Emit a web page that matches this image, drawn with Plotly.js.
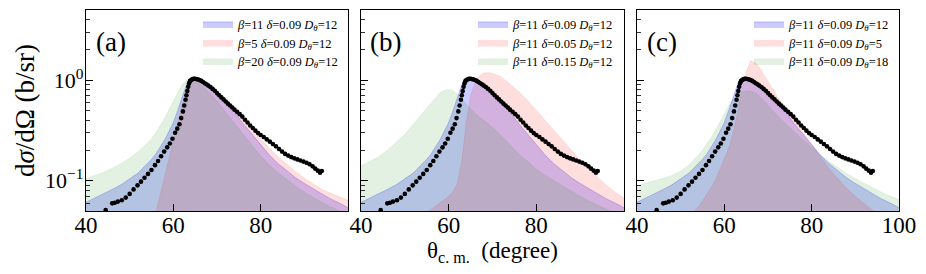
<!DOCTYPE html>
<html><head><meta charset="utf-8">
<script src="https://cdn.plot.ly/plotly-3.0.1.min.js"></script>
<style>html,body{margin:0;padding:0;background:#fff}#chart{width:926px;height:274px}</style>
</head><body><div id="chart"></div>
<script>
// ---- data ----
const thetaModel = [40,42,44,46,48,50,52,54,55,56,57,58,59,60,61,62,63,64,65,66,67,68,69,70,72,74,76,78,80,82,84,86,88,90,92,94,96,98,100];
const thetaRed = [52,53,54,55,56,57,58,59,60,61,62,63,64,65,66,67,68,69,70,72,74,76,78,80,82,84,86,88,90,92,94,96,98,100];

// beta=11 delta=0.09 Dtheta=12 (common in all panels)
const sigBase = [0.061,0.067,0.074,0.082,0.091,0.104,0.12,0.148,0.163,0.185,0.215,0.255,0.31,0.38,0.5,0.68,0.9,1.05,1.08,1.03,0.96,0.89,0.82,0.75,0.6,0.48,0.37,0.29,0.225,0.18,0.148,0.125,0.107,0.094,0.083,0.074,0.066,0.06,0.054];
// panel (a)
const sigBeta5  = [0.012,0.016,0.022,0.032,0.047,0.073,0.11,0.17,0.26,0.38,0.57,0.78,0.94,1.02,1.0,0.95,0.89,0.82,0.75,0.62,0.5,0.4,0.32,0.26,0.21,0.172,0.145,0.123,0.106,0.093,0.082,0.075,0.069,0.064];
const sigBeta20 = [0.105,0.112,0.121,0.133,0.148,0.168,0.195,0.235,0.262,0.3,0.35,0.42,0.51,0.62,0.76,0.9,1.0,1.04,1.0,0.93,0.85,0.77,0.69,0.62,0.48,0.37,0.29,0.225,0.177,0.143,0.12,0.102,0.088,0.077,0.068,0.061,0.055,0.05,0.046];
// panel (b)
const sigDelta005 = [0.03,0.038,0.043,0.048,0.052,0.056,0.06,0.064,0.07,0.078,0.095,0.16,0.38,0.7,0.95,1.1,1.18,1.19,1.17,1.08,0.92,0.77,0.63,0.5,0.4,0.315,0.25,0.197,0.16,0.13,0.108,0.09,0.077,0.067];
const sigDelta015 = [0.141,0.155,0.172,0.2,0.24,0.29,0.37,0.47,0.53,0.6,0.68,0.75,0.79,0.81,0.79,0.72,0.65,0.58,0.52,0.47,0.43,0.4,0.37,0.34,0.28,0.225,0.185,0.155,0.13,0.113,0.1,0.088,0.078,0.07,0.063,0.057,0.052,0.048,0.044];
// panel (c)
const sigD5  = [0.045,0.05,0.055,0.063,0.073,0.086,0.103,0.13,0.165,0.21,0.3,0.47,0.8,1.2,1.55,1.5,1.35,1.15,0.97,0.7,0.53,0.4,0.3,0.225,0.17,0.132,0.105,0.084,0.07,0.059,0.05,0.042,0.036,0.031];
const sigD18 = [0.089,0.094,0.1,0.106,0.113,0.125,0.145,0.18,0.2,0.235,0.27,0.32,0.38,0.46,0.56,0.64,0.71,0.76,0.78,0.78,0.75,0.7,0.63,0.56,0.45,0.37,0.305,0.255,0.215,0.18,0.155,0.135,0.118,0.105,0.094,0.085,0.077,0.07,0.065];

// experiment
const expTheta = [44.5,46.0,46.6,47.3,48.2,49.1,50.0,50.9,51.8,52.6,53.4,54.2,55.0,55.8,56.5,57.2,57.9,58.6,59.2,59.8,60.4,60.9,61.4,61.8,62.2,62.5,62.8,63.0,63.2,63.4,63.6,63.8,64.0,64.3,64.6,64.9,65.2,65.6,66.0,66.4,66.8,67.2,67.6,68.0,68.5,69.0,69.5,70.0,70.5,71.0,71.5,72.0,72.5,73.0,73.5,74.0,74.6,75.2,75.8,76.4,77.0,77.6,78.2,78.8,79.4,80.0,80.7,81.4,82.1,82.8,83.5,84.2,84.9,85.6,86.3,87.0,87.7,88.4,89.1,89.8,90.5,91.2,91.9,92.5,93.1,93.6,94.0];
const expSigma = [0.051,0.0596,0.0605,0.062,0.064,0.068,0.074,0.082,0.09,0.098,0.107,0.117,0.128,0.143,0.157,0.175,0.195,0.215,0.235,0.262,0.3,0.33,0.365,0.42,0.49,0.56,0.64,0.71,0.78,0.86,0.93,0.98,1.0,1.02,1.035,1.035,1.03,1.02,1.005,0.985,0.96,0.935,0.91,0.885,0.855,0.82,0.785,0.745,0.71,0.675,0.645,0.615,0.585,0.56,0.535,0.51,0.485,0.46,0.435,0.405,0.38,0.355,0.335,0.315,0.298,0.285,0.272,0.258,0.245,0.232,0.22,0.207,0.195,0.185,0.178,0.172,0.167,0.163,0.159,0.155,0.151,0.146,0.139,0.132,0.126,0.12,0.125];

const labelsA = ['<i>β</i>=11 <i>δ</i>=0.09 <i>D</i><sub><i>θ</i></sub>=12','<i>β</i>=5 <i>δ</i>=0.09 <i>D</i><sub><i>θ</i></sub>=12','<i>β</i>=20 <i>δ</i>=0.09 <i>D</i><sub><i>θ</i></sub>=12'];
const labelsB = ['<i>β</i>=11 <i>δ</i>=0.09 <i>D</i><sub><i>θ</i></sub>=12','<i>β</i>=11 <i>δ</i>=0.05 <i>D</i><sub><i>θ</i></sub>=12','<i>β</i>=11 <i>δ</i>=0.15 <i>D</i><sub><i>θ</i></sub>=12'];
const labelsC = ['<i>β</i>=11 <i>δ</i>=0.09 <i>D</i><sub><i>θ</i></sub>=12','<i>β</i>=11 <i>δ</i>=0.09 <i>D</i><sub><i>θ</i></sub>=5','<i>β</i>=11 <i>δ</i>=0.09 <i>D</i><sub><i>θ</i></sub>=18'];
const panelTags = ['(a)','(b)','(c)'];
const xTickVals = [40,60,80,100];
const yTickVals = [0.1,1];
const yTickText = ['10<sup>−1</sup>','10<sup>0</sup>'];
const yMinorVals = [0.05,0.06,0.07,0.08,0.09,0.2,0.3,0.4,0.5,0.6,0.7,0.8,0.9,2,3,4,5];

// ---- styles ----
const FONT = '"Liberation Serif", "Times New Roman", Times, serif';
const BLUE = {fill:'rgba(0,0,255,0.2)', line:'rgba(0,0,255,0.28)'};
const RED  = {fill:'rgba(255,0,0,0.13)', line:'rgba(255,0,0,0.12)'};
const GREEN= {fill:'rgba(0,128,0,0.11)', line:'rgba(0,128,0,0.1)'};

function band(x, y, col, name, ax, leg) {
  return {x:x, y:y, type:'scatter', mode:'lines', fill:'tozeroy', fillcolor:col.fill,
    line:{color:col.line, width:0.8}, name:name, xaxis:ax[0], yaxis:ax[1], legend:leg, hoverinfo:'skip'};
}
function dots(ax) {
  return {x:expTheta, y:expSigma, type:'scatter', mode:'markers', marker:{color:'#000', size:4.6},
    xaxis:ax[0], yaxis:ax[1], showlegend:false, hoverinfo:'skip'};
}
const axA=['x','y'], axB=['x2','y2'], axC=['x3','y3'];
const data = [
  band(thetaModel, sigBase, BLUE, labelsA[0], axA, 'legend'),
  band(thetaRed, sigBeta5, RED, labelsA[1], axA, 'legend2'),
  band(thetaModel, sigBeta20, GREEN, labelsA[2], axA, 'legend3'),
  dots(axA),
  band(thetaModel, sigBase, BLUE, labelsB[0], axB, 'legend4'),
  band(thetaRed, sigDelta005, RED, labelsB[1], axB, 'legend5'),
  band(thetaModel, sigDelta015, GREEN, labelsB[2], axB, 'legend6'),
  dots(axB),
  band(thetaModel, sigBase, BLUE, labelsC[0], axC, 'legend7'),
  band(thetaRed, sigD5, RED, labelsC[1], axC, 'legend8'),
  band(thetaModel, sigD18, GREEN, labelsC[2], axC, 'legend9'),
  dots(axC)
];

const W = 926, H = 274, TOP = 10, PH = 201;
const doms = [[86/W, 348/W],[361/W, 624/W],[637/W, 899/W]];
function xax(i, showLast, title) {
  const a = {domain:doms[i], range:[40,100], tickmode:'array', tickvals:xTickVals,
    ticktext: xTickVals.map(v => (v===100 && !showLast) ? '' : String(v)),
    ticks:'inside', ticklen:7, tickwidth:1, tickcolor:'#000', ticklabelstandoff:-7,
    showline:true, mirror:true, linecolor:'#000', linewidth:1.2,
    showgrid:false, zeroline:false, tickfont:{family:FONT, size:23, color:'#000'},
    anchor: i===0?'y':('y'+(i+1))};
  if (title) a.title = {text:title, font:{family:FONT, size:23, color:'#000'}, standoff:0};
  return a;
}
function yax(i, showLabels, title) {
  const a = {domain:[0,1], type:'log', range:[Math.log10(0.05), Math.log10(5)],
    tickmode:'array', tickvals:yTickVals, ticktext:yTickText, showticklabels:showLabels,
    ticks:'inside', ticklen:7, tickwidth:1, tickcolor:'#000', ticklabelstandoff:-3,
    minor:{tickmode:'array', tickvals:yMinorVals, ticks:'inside', ticklen:4, tickwidth:0.8, tickcolor:'#000', showgrid:false},
    showline:true, mirror:true, linecolor:'#000', linewidth:1.2,
    showgrid:false, zeroline:false, tickfont:{family:FONT, size:22, color:'#000'},
    anchor: i===0?'x':('x'+(i+1))};
  if (title) a.title = {text:title, font:{family:FONT, size:27, color:'#000'}, standoff:2};
  return a;
}
// one legend per row so the row spacing matches the reference
const legendX = [198, 473, 749];
const rowTop = [9.3, 28.0, 46.3];
function leg(xpx, ypx) {
  return {x:xpx/W, y:1-(ypx-TOP)/PH, xanchor:'left', yanchor:'top', bgcolor:'rgba(0,0,0,0)', borderwidth:0,
    font:{family:FONT, size:12.5, color:'#000'}, itemwidth:30};
}
const layout = {
  width:W, height:H, margin:{l:0, r:0, t:TOP, b:H-TOP-PH},
  paper_bgcolor:'#fff', plot_bgcolor:'#fff', showlegend:true,
  xaxis: xax(0, false), xaxis2: xax(1, false, 'θ<sub>c. m.</sub>  (degree)'), xaxis3: xax(2, true),
  yaxis: yax(0, true, 'd<i>σ</i>/dΩ (b/sr)'), yaxis2: yax(1, false), yaxis3: yax(2, false),
  annotations: panelTags.map((t,i) => ({text:t, xref:(i===0?'x':'x'+(i+1))+' domain', yref:(i===0?'y':'y'+(i+1))+' domain',
    x:0.095, y:0.84, xanchor:'center', yanchor:'middle', showarrow:false, font:{family:FONT, size:27, color:'#000'}}))
};
for (let p = 0; p < 3; p++) {
  for (let r = 0; r < 3; r++) {
    const k = p*3 + r + 1;
    layout[k === 1 ? 'legend' : 'legend' + k] = leg(legendX[p], rowTop[r]);
  }
}
Plotly.newPlot('chart', data, layout, {staticPlot:true, displayModeBar:false});
</script>
</body></html>
